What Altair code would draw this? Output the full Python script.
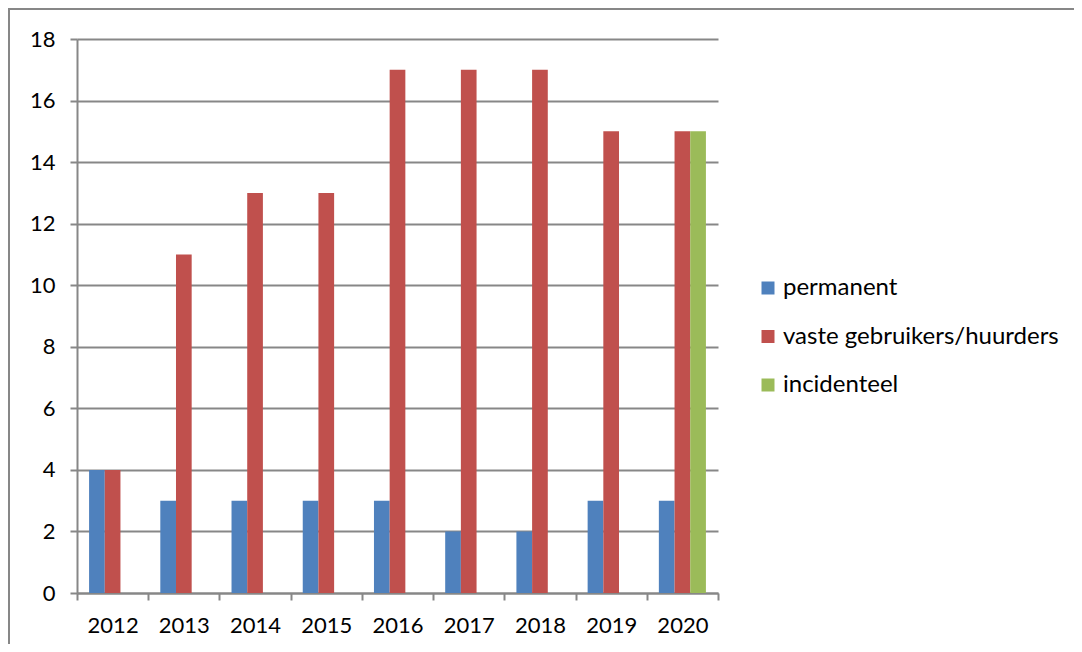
import altair as alt
import pandas as pd

years = ["2012", "2013", "2014", "2015", "2016", "2017", "2018", "2019", "2020"]
permanent = [4, 3, 3, 3, 3, 2, 2, 3, 3]
vaste = [4, 11, 13, 13, 17, 17, 17, 15, 15]
incidenteel = [None, None, None, None, None, None, None, None, 15]

series_names = ["permanent", "vaste gebruikers/huurders", "incidenteel"]
series_colors = ["#4F81BD", "#C0504D", "#9BBB59"]

rows = []
for name, vals in zip(series_names, [permanent, vaste, incidenteel]):
    for y, v in zip(years, vals):
        if v is not None:
            rows.append({"jaar": y, "serie": name, "aantal": v})
df = pd.DataFrame(rows)

FONT = "Lato"
GRAY = "#878787"

bars = alt.Chart(df).mark_bar().encode(
    x=alt.X("jaar:N", sort=years,
            scale=alt.Scale(paddingInner=0, paddingOuter=0),
            axis=alt.Axis(title=None, labelAngle=0, tickBand="extent", grid=False,
                          domainColor=GRAY, tickColor=GRAY, tickSize=7, tickWidth=2,
                          domainWidth=2, labelFont=FONT, labelFontSize=22,
                          labelColor="black", labelPadding=15)),
    xOffset=alt.XOffset("serie:N", sort=series_names,
                        scale=alt.Scale(domain=series_names, paddingInner=0, paddingOuter=0.77)),
    y=alt.Y("aantal:Q", scale=alt.Scale(domain=[0, 18], nice=False),
            axis=alt.Axis(title=None, values=list(range(0, 20, 2)), grid=True,
                          gridColor=GRAY, gridWidth=2, domainColor=GRAY, domainWidth=2,
                          tickColor=GRAY, tickSize=7, tickWidth=2,
                          labelFont=FONT, labelFontSize=22, labelColor="black",
                          labelPadding=15)),
    color=alt.Color("serie:N", sort=series_names,
                    scale=alt.Scale(domain=series_names, range=series_colors),
                    legend=alt.Legend(title=None, orient="none", legendX=679, legendY=237,
                                      symbolType="square", symbolSize=169,
                                      symbolStrokeWidth=0, labelFont=FONT,
                                      labelFontSize=24, labelColor="black", labelLimit=0,
                                      labelOffset=3, rowPadding=24.5, padding=0)),
)

border = alt.Chart(alt.Data(values=[{}])).mark_rect(
    filled=False, stroke=GRAY, strokeWidth=2
).encode(
    x=alt.value(-68), x2=alt.value(1300), y=alt.value(-30), y2=alt.value(1000)
)

chart = alt.layer(bars, border).properties(
    width=641, height=554,
    autosize=alt.AutoSizeParams(type="none"),
    padding={"left": 69, "top": 31, "right": 356, "bottom": 51},
).configure_view(stroke=None)

chart.save("out.html", embed_options={"renderer": "svg", "actions": False})
